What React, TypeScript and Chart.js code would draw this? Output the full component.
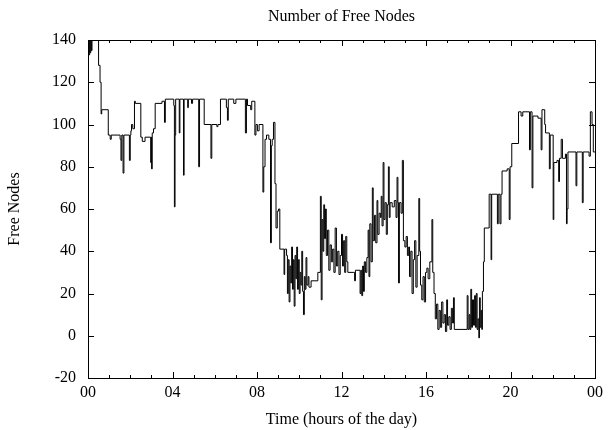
import React, { useEffect, useRef } from "react";
import { Chart, registerables } from "chart.js";

Chart.register(...registerables);

// Time of day (hours) at which the number of free nodes changes
const times: number[] = [
  0.0, 0.03, 0.05, 0.08, 0.1, 0.13, 0.16, 0.19, 0.5, 0.57, 0.62, 0.65, 0.96, 1.05, 1.1, 1.52, 1.56, 1.6, 1.66, 1.7,
  1.96, 2.0, 2.03, 2.06, 2.12, 2.2, 2.24, 2.5, 2.57, 2.7, 2.97, 2.99, 3.01, 3.04, 3.1, 3.18, 3.5, 3.62, 3.66, 4.06,
  4.09, 4.12, 4.15, 4.32, 4.35, 4.52, 4.55, 4.72, 4.75, 4.9, 4.95, 5.24, 5.28, 5.5, 5.82, 5.86, 6.1, 6.15, 6.27, 6.55,
  6.6, 6.64, 6.9, 7.0, 7.45, 7.5, 7.55, 7.7, 7.75, 7.9, 7.95, 8.02, 8.1, 8.28, 8.32, 8.38, 8.45, 8.56, 8.64, 8.68,
  8.72, 8.78, 8.85, 8.9, 8.96, 9.02, 9.08, 9.28, 9.31, 9.4, 9.44, 9.48, 9.52, 9.56, 9.6, 9.64, 9.68, 9.72, 9.76, 9.8,
  9.84, 9.88, 9.92, 9.96, 10.0, 10.04, 10.08, 10.12, 10.16, 10.2, 10.24, 10.28, 10.32, 10.36, 10.42, 10.46, 10.56, 10.88, 11.0, 11.04,
  11.08, 11.12, 11.16, 11.2, 11.24, 11.28, 11.34, 11.4, 11.46, 11.52, 11.58, 11.64, 11.7, 11.76, 11.82, 11.88, 11.94, 12.0, 12.05, 12.1,
  12.15, 12.2, 12.25, 12.3, 12.55, 12.62, 12.66, 12.88, 12.92, 12.96, 13.0, 13.04, 13.08, 13.14, 13.2, 13.26, 13.3, 13.34, 13.4, 13.46,
  13.5, 13.56, 13.62, 13.68, 13.72, 13.78, 13.84, 13.88, 13.92, 13.97, 14.01, 14.06, 14.12, 14.17, 14.22, 14.26, 14.3, 14.4, 14.5, 14.58,
  14.63, 14.67, 14.7, 14.74, 14.82, 14.88, 14.93, 15.0, 15.06, 15.12, 15.18, 15.22, 15.28, 15.34, 15.4, 15.46, 15.52, 15.58, 15.66, 15.7,
  15.74, 15.8, 15.86, 15.92, 15.98, 16.04, 16.1, 16.18, 16.28, 16.32, 16.38, 16.44, 16.5, 16.56, 16.62, 16.68, 16.74, 16.8, 16.86, 16.92,
  16.98, 17.02, 17.08, 17.14, 17.2, 17.26, 17.3, 17.34, 17.95, 17.99, 18.04, 18.08, 18.12, 18.16, 18.2, 18.25, 18.3, 18.34, 18.38, 18.42,
  18.46, 18.5, 18.53, 18.57, 18.61, 18.64, 18.67, 18.72, 18.76, 18.99, 19.08, 19.11, 19.38, 19.42, 19.5, 19.55, 19.6, 19.84, 19.94, 19.98,
  20.06, 20.38, 20.5, 20.58, 20.9, 20.94, 21.02, 21.06, 21.3, 21.45, 21.49, 21.62, 21.66, 21.84, 21.88, 22.02, 22.05, 22.2, 22.28, 22.32,
  22.4, 22.46, 22.6, 22.65, 22.68, 22.72, 23.1, 23.14, 23.4, 23.44, 23.72, 23.78, 23.86, 23.92, 24.0,
];

// Number of free nodes from each of those times on
const freeNodes: number[] = [
  136, 140, 133, 140, 134, 140, 135, 140, 128, 120, 105, 107, 95, 93, 95, 93, 83, 95, 77, 95,
  83, 95, 97, 100, 98, 111, 110, 94, 92, 94, 82, 94, 79, 96, 98, 110, 111, 101, 112, 109,
  61, 95, 112, 96, 112, 76, 112, 108, 112, 110, 112, 80, 112, 100, 84, 100, 99, 100, 112, 108,
  102, 112, 110, 112, 96, 112, 109, 107, 111, 95, 100, 97, 100, 68, 80, 93, 95, 93, 44, 90,
  93, 101, 72, 51, 59, 60, 41, 29, 41, 38, 20, 36, 16, 33, 25, 42, 22, 36, 14, 38,
  27, 42, 22, 36, 20, 30, 24, 40, 21, 10, 28, 22, 37, 24, 28, 23, 26, 30, 66, 17,
  55, 40, 62, 46, 60, 38, 50, 31, 43, 35, 41, 30, 51, 33, 40, 29, 38, 48, 33, 45,
  30, 47, 35, 30, 30, 26, 31, 20, 31, 19, 33, 21, 35, 30, 37, 50, 28, 53, 35, 70,
  45, 57, 44, 64, 48, 58, 56, 66, 52, 82, 55, 63, 48, 62, 80, 56, 63, 61, 64, 56,
  75, 63, 25, 63, 58, 83, 45, 42, 47, 38, 42, 28, 40, 20, 36, 45, 23, 38, 65, 40,
  24, 17, 28, 16, 30, 32, 27, 35, 55, 30, 20, 8, 15, 3, 12, 4, 16, 6, 10, 2,
  17, 5, 9, 3, 13, 6, 18, 3, 19, 3, 10, 3, 22, 4, 17, 5, 19, 4, 20, 3,
  8, -1, 18, 4, 12, 3, 21, 35, 51, 67, 36, 67, 53, 67, 53, 67, 78, 79, 55, 80,
  91, 106, 104, 106, 88, 106, 70, 104, 103, 88, 107, 100, 96, 79, 95, 55, 82, 83, 73, 84,
  93, 84, 86, 53, 60, 87, 71, 87, 63, 87, 85, 106, 100, 87, 87,
];

const xTickValues: number[] = [0, 4, 8, 12, 16, 20, 24];
const xTickLabels: string[] = ["00", "04", "08", "12", "16", "20", "00"];
const yTickValues: number[] = [-20, 0, 20, 40, 60, 80, 100, 120, 140];

const chartTitle = "Number of Free Nodes";
const xTitle = "Time (hours of the day)";
const yTitle = "Free Nodes";

const FAMILY = "'Liberation Serif', 'Times New Roman', serif";
const FONT_SIZE = 16;

const frameAndTicks = {
  id: "frameAndTicks",
  afterDatasetsDraw(chart: any) {
    const { ctx, chartArea, scales } = chart;
    const { left, right, top, bottom } = chartArea;
    const x = scales.x;
    const y = scales.y;
    ctx.save();
    ctx.strokeStyle = "#000";
    ctx.lineWidth = 1;
    ctx.beginPath();
    const minorStep = 1;
    for (let h = x.min; h <= x.max + 1e-9; h += minorStep) {
      const px = Math.round(x.getPixelForValue(h)) + 0.5;
      const major = xTickValues.includes(h);
      const len = major ? 6 : 3;
      ctx.moveTo(px, bottom);
      ctx.lineTo(px, bottom - len);
      ctx.moveTo(px, top);
      ctx.lineTo(px, top + len);
    }
    for (const v of yTickValues) {
      const py = Math.round(y.getPixelForValue(v)) + 0.5;
      ctx.moveTo(left, py);
      ctx.lineTo(left + 6, py);
      ctx.moveTo(right, py);
      ctx.lineTo(right - 6, py);
    }
    ctx.stroke();
    ctx.strokeRect(Math.round(left) + 0.5, Math.round(top) + 0.5, Math.round(right - left), Math.round(bottom - top));
    // title centred over the plot
    ctx.fillStyle = "#000";
    ctx.font = `${FONT_SIZE}px ${FAMILY}`;
    ctx.textAlign = "center";
    ctx.textBaseline = "middle";
    ctx.fillText(chartTitle, (left + right) / 2, 17);
    ctx.restore();
  },
};

export default function App() {
  const canvasRef = useRef<HTMLCanvasElement | null>(null);

  useEffect(() => {
    const canvas = canvasRef.current;
    if (!canvas) return;
    const data = times.map((t, i) => ({ x: t, y: freeNodes[i] }));
    const font = { family: FAMILY, size: FONT_SIZE, weight: "normal" as const };
    const chart = new Chart(canvas, {
      type: "line",
      data: {
        datasets: [
          {
            data,
            borderColor: "#000",
            borderWidth: 1,
            pointRadius: 0,
            stepped: true,
            fill: false,
            tension: 0,
          },
        ],
      },
      options: {
        animation: false,
        responsive: false,
        devicePixelRatio: 1,
        layout: { padding: { top: 40, right: 9, left: 0, bottom: 0 } },
        plugins: {
          legend: { display: false },
          title: { display: false },
          tooltip: { enabled: false },
        },
        scales: {
          x: {
            type: "linear",
            min: 0,
            max: 24,
            grid: { display: false, drawTicks: false },
            border: { display: false },
            afterBuildTicks: (s: any) => {
              s.ticks = xTickValues.map((v) => ({ value: v }));
            },
            ticks: {
              autoSkip: false,
              maxRotation: 0,
              padding: 5,
              color: "#000",
              font,
              callback: (_v: any, i: number) => xTickLabels[i],
            },
            title: {
              display: true,
              text: xTitle,
              color: "#000",
              font,
              padding: { top: 0, bottom: 1 },
            },
            afterFit: (s: any) => {
              s.height = 52;
            },
          },
          y: {
            type: "linear",
            min: -20,
            max: 140,
            grid: { display: false, drawTicks: false },
            border: { display: false },
            afterBuildTicks: (s: any) => {
              s.ticks = yTickValues.map((v) => ({ value: v }));
            },
            ticks: {
              padding: 12,
              color: "#000",
              font,
              callback: (v: any) => String(v),
            },
            title: {
              display: true,
              text: yTitle,
              color: "#000",
              font,
              padding: { top: 5, bottom: 0 },
            },
            afterFit: (s: any) => {
              s.width = 88;
            },
          },
        },
      },
      plugins: [frameAndTicks],
    });
    return () => chart.destroy();
  }, []);

  return (
    <div style={{ position: "fixed", left: 0, top: 0, width: 608, height: 430, background: "#fff" }}>
      <canvas ref={canvasRef} width={608} height={430} />
    </div>
  );
}
